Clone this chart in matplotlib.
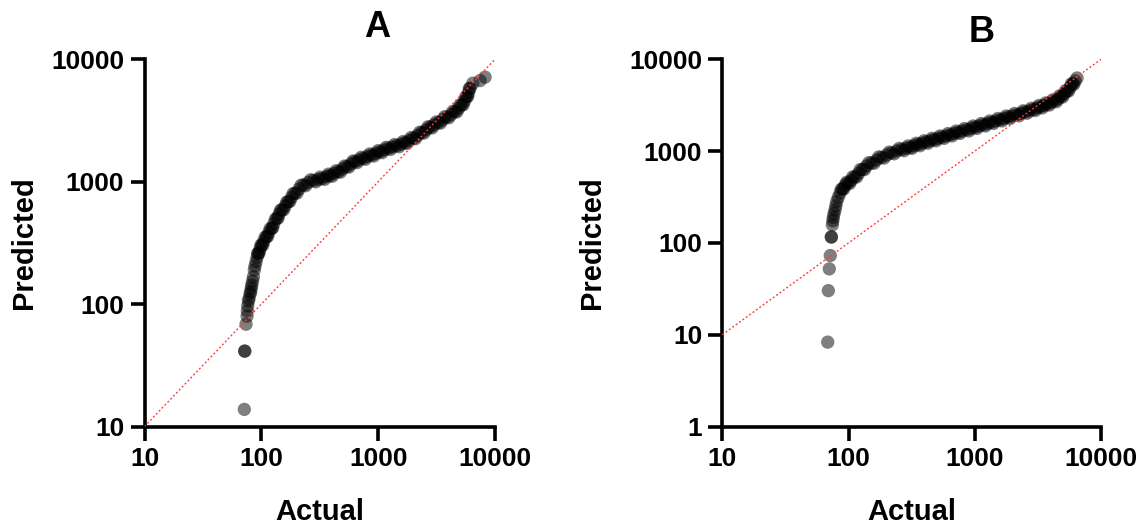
import matplotlib
matplotlib.use("Agg")
import matplotlib.pyplot as plt
from matplotlib.ticker import FixedLocator, NullLocator

plt.rcParams['font.family'] = ['Liberation Sans', 'DejaVu Sans']
plt.rcParams['font.weight'] = 'bold'

# Panel A: actual vs predicted, read along the centre of the point cloud
actual_a = [71.5, 72.1, 72.1, 74.0, 75.5, 75.9, 76.5, 77.6, 78.5, 80.0, 81.1,
            82.0, 82.8, 84.1, 85.5, 87.1, 88.3, 90.1, 91.9, 94.2, 97.4, 101,
            105, 111, 116, 123, 128, 136, 142, 150, 160, 170, 181, 194, 210,
            229, 251, 279, 306, 331, 363, 387, 419, 456, 495, 538, 586, 634,
            686, 747, 811, 881, 959, 1038, 1123, 1222, 1327, 1442, 1570, 1698,
            1839, 2001, 2175, 2362, 2572, 2782, 3011, 3276, 3558, 3868, 4210,
            4553, 4878, 5197, 5494, 5738, 5947, 6123, 6460, 7454, 8227]
predicted_a = [13.8, 41.3, 41.3, 68.5, 79.8, 87.7, 96.8, 106, 111, 121, 126,
               135, 143, 154, 167, 190, 205, 222, 240, 260, 282, 304, 327, 355,
               384, 416, 455, 502, 545, 587, 633, 686, 742, 803, 871, 939, 984,
               1022, 1042, 1062, 1103, 1124, 1167, 1208, 1270, 1327, 1397, 1459,
               1505, 1554, 1607, 1652, 1706, 1759, 1816, 1875, 1922, 1969, 2027,
               2084, 2173, 2266, 2388, 2518, 2649, 2787, 2911, 3037, 3197, 3365,
               3543, 3736, 3968, 4238, 4570, 4955, 5362, 5803, 6379, 6701, 7145]

# Panel A: further points on the upper and lower sides of the dense band
actual_a_side = [93.0, 95.8, 99.2, 103, 108, 113, 119, 125, 132, 139, 146, 155,
                 165, 175, 187, 202, 219, 240, 265, 292, 318, 347, 375, 403,
                 437, 475, 516, 562, 610, 660, 716, 778, 845, 919, 998, 1080,
                 1171, 1273, 1383, 1505, 1633, 1767, 1918, 2086, 2267, 2465,
                 2675, 2894, 3141, 3414, 3710, 4036, 4378, 4713, 5035, 5344,
                 5615, 5842, 6034]
predicted_a_side = [259, 262, 303, 304, 353, 357, 414, 420, 495, 505, 586, 589,
                    682, 689, 799, 808, 936, 928, 1038, 997, 1089, 1045, 1152,
                    1106, 1229, 1197, 1343, 1316, 1478, 1432, 1583, 1526, 1686,
                    1622, 1793, 1726, 1910, 1833, 2013, 1930, 2127, 2056, 2297,
                    2247, 2538, 2495, 2812, 2751, 3077, 3010, 3395, 3336, 3765,
                    3719, 4245, 4251, 4925, 4979, 5773]

# Panel B: actual vs predicted, read along the centre of the point cloud
actual_b = [68.4, 69.2, 70.4, 71.7, 73.1, 73.1, 74.4, 75.1, 75.8, 76.8, 78.2,
            79.3, 80.6, 82.9, 85.6, 89.6, 93.8, 99.1, 105, 112, 120, 129, 139,
            152, 167, 182, 201, 219, 241, 264, 286, 307, 330, 356, 382, 411,
            442, 476, 511, 550, 592, 637, 685, 737, 793, 864, 935, 1005, 1082,
            1170, 1263, 1359, 1462, 1587, 1707, 1836, 1974, 2151, 2327, 2504,
            2694, 2913, 3116, 3322, 3540, 3773, 4023, 4290, 4574, 4828, 5100,
            5387, 5687, 5955, 6235, 6462]
predicted_b = [8.30, 30.2, 52.1, 72.8, 116, 116, 157, 174, 190, 209, 229, 253,
               282, 313, 348, 387, 423, 450, 479, 523, 571, 632, 689, 743, 801,
               853, 908, 955, 1004, 1042, 1074, 1101, 1143, 1181, 1217, 1258,
               1296, 1336, 1373, 1419, 1462, 1507, 1556, 1604, 1657, 1707, 1764,
               1822, 1879, 1936, 2000, 2061, 2129, 2199, 2266, 2342, 2414, 2494,
               2577, 2668, 2749, 2840, 2949, 3047, 3140, 3261, 3385, 3532, 3696,
               3937, 4192, 4518, 4930, 5383, 5808, 6255]

# Panel B: further points on the upper and lower sides of the dense band
actual_b_side = [87.6, 91.7, 96.4, 102, 108, 116, 124, 134, 145, 159, 174, 191,
                 210, 230, 252, 275, 296, 318, 343, 369, 396, 426, 459, 493,
                 530, 571, 614, 661, 711, 765, 828, 899, 969, 1043, 1125, 1216,
                 1310, 1410, 1523, 1646, 1770, 1904, 2061, 2237, 2414, 2597,
                 2801, 3013, 3217, 3429, 3655, 3896, 4154, 4430, 4699, 4962,
                 5242, 5535, 5819, 6093]
predicted_b_side = [384, 387, 457, 443, 524, 522, 629, 630, 749, 737, 866, 840,
                    975, 935, 1071, 1010, 1138, 1071, 1216, 1145, 1295, 1219,
                    1378, 1293, 1461, 1375, 1554, 1462, 1654, 1557, 1761, 1657,
                    1877, 1767, 1997, 1879, 2125, 2001, 2266, 2132, 2412, 2271,
                    2569, 2421, 2745, 2586, 2925, 2764, 3139, 2954, 3350, 3173,
                    3620, 3450, 3994, 3879, 4557, 4507, 5393, 5340]

x_ticks = [10, 100, 1000, 10000]
y_ticks_a = [10, 100, 1000, 10000]
y_ticks_b = [1, 10, 100, 1000, 10000]
identity = [10, 10000]

W, H = 1146, 524
fig = plt.figure(figsize=(W / 100, H / 100), dpi=100)


def px_rect(x0, y0, x1, y1):
    return [x0 / W, 1 - y1 / H, (x1 - x0) / W, (y1 - y0) / H]


ax_a = fig.add_axes(px_rect(144.5, 59.3, 495, 426.5))
ax_b = fig.add_axes(px_rect(722.3, 59.3, 1101, 426.5))


def style(ax, xs, ys, yticks):
    ax.set_xscale('log')
    ax.set_yscale('log')
    ax.scatter(xs, ys, s=92, color='black', alpha=0.5, edgecolors='none',
               zorder=2, clip_on=False)
    ax.plot(identity, identity, color='#ff3b3b', lw=1.0,
            linestyle=(0, (1.4, 1.6)), zorder=3)
    ax.set_xlim(x_ticks[0], x_ticks[-1])
    ax.set_ylim(yticks[0], yticks[-1])
    ax.xaxis.set_major_locator(FixedLocator(x_ticks))
    ax.yaxis.set_major_locator(FixedLocator(yticks))
    ax.xaxis.set_minor_locator(NullLocator())
    ax.yaxis.set_minor_locator(NullLocator())
    ax.set_xticklabels([str(t) for t in x_ticks])
    ax.set_yticklabels([str(t) for t in yticks])
    for side in ('top', 'right'):
        ax.spines[side].set_visible(False)
    for side in ('left', 'bottom'):
        ax.spines[side].set_linewidth(2.6)
    ax.tick_params(axis='both', which='major', length=10, width=2.6,
                   labelsize=19)
    ax.tick_params(axis='x', pad=5)
    ax.tick_params(axis='y', pad=4.5)
    for lab in ax.get_xticklabels() + ax.get_yticklabels():
        lab.set_fontweight('bold')


style(ax_a, actual_a + actual_a_side, predicted_a + predicted_a_side,
      y_ticks_a)
style(ax_b, actual_b + actual_b_side, predicted_b + predicted_b_side,
      y_ticks_b)


def ftext(x, y, s, **kw):
    fig.text(x / W, 1 - y / H, s, fontweight='bold', **kw)


ftext(376.7, 37.3, 'A', fontsize=26, ha='center', va='baseline')
ftext(981.7, 41.7, 'B', fontsize=26, ha='center', va='baseline')
ftext(319.5, 520, 'Actual', fontsize=21, ha='center', va='baseline')
ftext(911.7, 520, 'Actual', fontsize=21, ha='center', va='baseline')
ftext(24, 242.5, 'Predicted', fontsize=21, ha='center', va='center',
      rotation=90)
ftext(592.5, 242.5, 'Predicted', fontsize=21, ha='center', va='center',
      rotation=90)

fig.savefig('out.png', dpi=100)
